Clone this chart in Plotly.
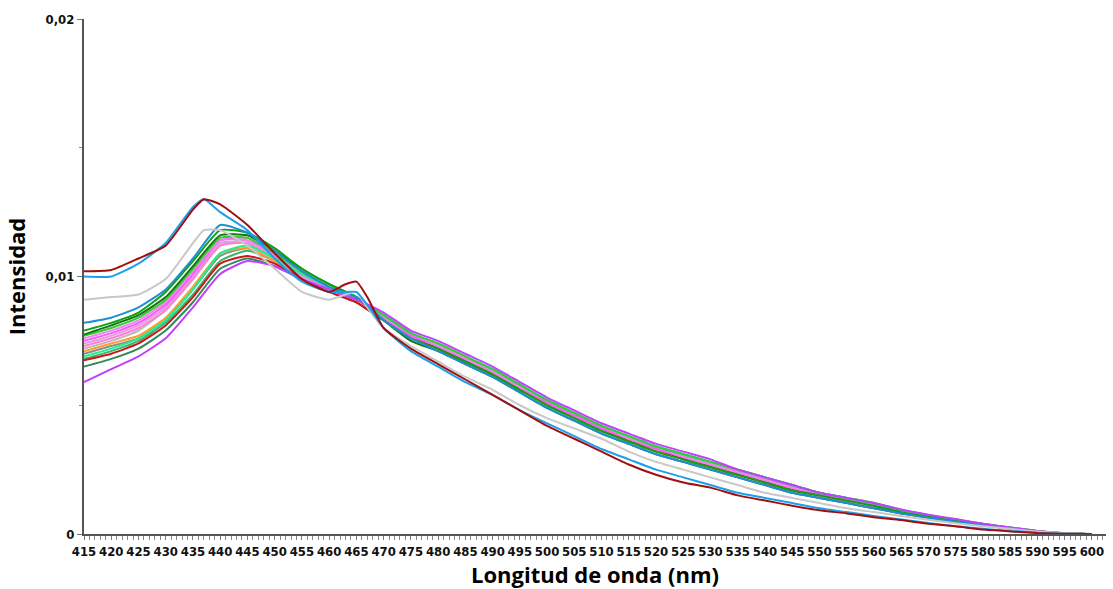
import plotly.graph_objects as go

# Wavelengths (nm)
x_a = [415, 420, 425, 430, 435, 437, 440, 445, 450, 455, 460, 463, 465, 467, 470,
       475, 480, 485, 490, 495, 500, 505, 510, 515, 520, 525, 530, 535, 540, 545,
       550, 555, 560, 565, 570, 575, 580, 585, 590, 595, 600]
x_b = [415, 420, 425, 430, 435, 440, 445, 450, 455, 460, 465,
       470, 475, 480, 485, 490, 495, 500, 505, 510, 515, 520, 525, 530, 535, 540,
       545, 550, 555, 560, 565, 570, 575, 580, 585, 590, 595, 600]

# Group A spectra (sampled on x_a)
darkred_a = [.0102, .01025, .0107, .0112, .0126, .0130, .0128, .0120, .0109, .0099, .0094, .0097, .0098, .0092, .0080,
             .0072, .0066, .0060, .0054, .0048, .0042, .0037, .0032, .0027, .0023, .0020, .0018, .0015, .0013, .0011,
             .00092, .0008, .00065, .00054, .0004, .0003, .00017, .0001, .00004, .00001, 0]
blue_a = [.0100, .0100, .0105, .0113, .0127, .0130, .0125, .0118, .0107, .0098, .0094, .0094, .0094, .0089, .0080,
          .0071, .0065, .0059, .0054, .0048, .0043, .0038, .0033, .0029, .0025, .0022, .0019, .0016, .0014, .0012,
          .0010, .00085, .0007, .00056, .00043, .0003, .0002, .00012, .00005, .00001, 0]
lightgray_a = [.0091, .0092, .0093, .0099, .0113, .0118, .0118, .0112, .0103, .0094, .0091, .0093, .0094, .0088, .0080,
               .0073, .0067, .0061, .0056, .0050, .0045, .0041, .0037, .0032, .0028, .0025, .0022, .0019, .0016, .0014,
               .0012, .0010, .00085, .0007, .00055, .00042, .0003, .0002, .0001, .00004, 0]

# Group B spectra (sampled on x_b)
steelblue_b = [.0082, .0084, .0088, .0095, .0107, .0120, .0117, .0110, .0102, .0096, .0092,
               .0083, .0076, .0071, .0066, .0061, .0055, .0049, .0044, .0039, .0035, .0031, .0028, .0025, .0022, .0019,
               .0016, .0014, .0012, .0010, .0008, .00063, .00048, .00034, .00021, .0001, .00003, 0]
green_b = [.0079, .0082, .0086, .0094, .0106, .0118, .0117, .0111, .0103, .0097, .0092,
           .0083, .0076, .0072, .0067, .0062, .0056, .0050, .0045, .0040, .0036, .0032, .0029, .0026, .0023, .0020,
           .0017, .0015, .0013, .0011, .00085, .00067, .0005, .00035, .00022, .0001, .00003, 0]
darkgreen_b = [.00775, .0081, .0085, .0092, .0104, .0116, .0116, .0110, .0103, .0097, .0092,
               .0083, .0075, .0071, .0066, .0061, .0055, .0049, .0044, .0039, .0035, .0031, .0028, .0025, .0022, .0019,
               .0016, .0014, .0012, .0010, .0008, .00063, .00048, .00034, .00021, .0001, .00003, 0]
limegreen_b = [.0077, .0080, .0084, .0091, .0103, .0115, .0115, .0109, .0102, .0096, .0091,
               .0085, .0078, .0074, .0069, .0064, .0058, .0052, .0047, .0042, .0038, .0034, .0031, .0028, .0025, .0022,
               .0019, .0016, .0014, .0012, .00093, .00073, .00056, .0004, .00025, .00012, .00003, 0]
violet_b = [.0076, .0079, .0083, .0090, .0102, .0114, .0114, .0108, .0101, .0095, .0091,
            .0084, .0078, .0073, .0068, .0063, .0057, .0052, .0047, .0042, .0037, .0034, .0030, .0027, .0024, .0021,
            .0018, .0016, .0013, .0011, .0009, .0007, .00054, .00038, .00024, .00011, .00003, 0]
magenta_b = [.0075, .0078, .0082, .0089, .0101, .0114, .0115, .0108, .0101, .0095, .0091,
             .0084, .0077, .0073, .0068, .0063, .0057, .0051, .0046, .0041, .0037, .0033, .0030, .0027, .0024, .0021,
             .0018, .0015, .0013, .0011, .00088, .0007, .00053, .00037, .00023, .00011, .00003, 0]
plum_b = [.0074, .0077, .0081, .0088, .0100, .0113, .0113, .0107, .0100, .0095, .0091,
          .0084, .0077, .0073, .0068, .0063, .0057, .0051, .0046, .0041, .0037, .0033, .0030, .0027, .0024, .0021,
          .0018, .0015, .0013, .0011, .00088, .0007, .00053, .00037, .00023, .00011, .00003, 0]
orange_b = [.0071, .0074, .0077, .0084, .0096, .0109, .0111, .0106, .0100, .0095, .0091,
            .0084, .0077, .0072, .0067, .0062, .0056, .0051, .0046, .0041, .0037, .0033, .0030, .0027, .0024, .0021,
            .0018, .0015, .0013, .0011, .00087, .00069, .00052, .00036, .00023, .00011, .00003, 0]
gray_b = [.0070, .0073, .0076, .0083, .0095, .0108, .0111, .0106, .0100, .0095, .0090,
          .0083, .0077, .0072, .0067, .0062, .0056, .0050, .0045, .0040, .0036, .0032, .0029, .0026, .0023, .0020,
          .0017, .0015, .0013, .0011, .00085, .00067, .0005, .00035, .00022, .0001, .00003, 0]
springgreen_b = [.0069, .0072, .0076, .0083, .0095, .0109, .0112, .0107, .0101, .0096, .0092,
                 .0085, .0078, .0074, .0069, .0064, .0058, .0052, .0047, .0042, .0038, .0034, .0031, .0028, .0025, .0022,
                 .0019, .0016, .0014, .0012, .00093, .00073, .00056, .0004, .00025, .00012, .00003, 0]
mediumseagreen_b = [.0068, .0071, .0075, .0082, .0093, .0106, .0110, .0106, .0100, .0095, .0091,
                    .0085, .0078, .0073, .0068, .0064, .0058, .0052, .0047, .0042, .0038, .0034, .0031, .0028, .0025, .0022,
                    .0019, .0016, .0014, .0012, .00092, .00072, .00055, .00039, .00024, .00012, .00003, 0]
red_b = [.00675, .0070, .0074, .0081, .0092, .0105, .0108, .0105, .0099, .0094, .0090,
         .0083, .0077, .0072, .0067, .0062, .0056, .0051, .0046, .0041, .0036, .0033, .0029, .0026, .0023, .0020,
         .0017, .0015, .0013, .0011, .00086, .00068, .00051, .00036, .00022, .0001, .00003, 0]
seagreen_b = [.0065, .0068, .0072, .0079, .0090, .0103, .0107, .0104, .0099, .0094, .0090,
              .0083, .0077, .0072, .0067, .0062, .0057, .0051, .0046, .0041, .0037, .0033, .0030, .0027, .0024, .0021,
              .0018, .0015, .0013, .0011, .00087, .00069, .00052, .00036, .00023, .00011, .00003, 0]
purple_b = [.0059, .0064, .0069, .0076, .0088, .0101, .0106, .0104, .0099, .0095, .0091,
            .0086, .0079, .0075, .0070, .0065, .0059, .0053, .0048, .0043, .0039, .0035, .0032, .0029, .0025, .0022,
            .0019, .0016, .0014, .0012, .00095, .00075, .00058, .0004, .00025, .00012, .00003, 0]
silver_b = [.0072, .0075, .0079, .0087, .0099, .0112, .0114, .0108, .0100, .0094, .0090,
            .0084, .0077, .0073, .0068, .0063, .0057, .0051, .0046, .0041, .0037, .0033, .0030, .0027, .0024, .0021,
            .0018, .0015, .0013, .0011, .00088, .0007, .00053, .00037, .00023, .00011, .00003, 0]
hotpink_b = [.0073, .0076, .0080, .0087, .0099, .0112, .0113, .0107, .0101, .0095, .0091,
             .0084, .0077, .0073, .0068, .0063, .0057, .0051, .0046, .0041, .0037, .0033, .0030, .0027, .0024, .0021,
             .0018, .0015, .0013, .0011, .00088, .0007, .00053, .00037, .00023, .00011, .00003, 0]

# Axis ticks
x_tickvals = list(range(415, 601, 5))
y_tickvals = [0, 0.01, 0.02]
y_ticktext = ["0", "0,01", "0,02"]
y_minor = [0.005, 0.015]

series = [
    (x_b, mediumseagreen_b, "#3CB371"),
    (x_b, seagreen_b, "#2E8B57"),
    (x_b, gray_b, "#8C8C8C"),
    (x_b, silver_b, "#B8B8B8"),
    (x_b, orange_b, "#FF9A2E"),
    (x_b, red_b, "#D01515"),
    (x_b, plum_b, "#DDA0DD"),
    (x_b, hotpink_b, "#FF80D5"),
    (x_b, magenta_b, "#FF55FF"),
    (x_b, violet_b, "#EE82EE"),
    (x_b, springgreen_b, "#1EF08A"),
    (x_b, limegreen_b, "#33CC33"),
    (x_b, darkgreen_b, "#117711"),
    (x_b, green_b, "#10A010"),
    (x_b, steelblue_b, "#1E8ED2"),
    (x_b, purple_b, "#C040FF"),
    (x_a, lightgray_a, "#C8C8C8"),
    (x_a, blue_a, "#1E9FEA"),
    (x_a, darkred_a, "#A01010"),
]

fig = go.Figure()
for xs, ys, col in series:
    fig.add_trace(go.Scatter(x=xs, y=ys, mode="lines",
                             line=dict(color=col, width=2, shape="spline", smoothing=0.5),
                             hoverinfo="skip", showlegend=False))

tickfont = dict(family="DejaVu Sans Condensed, Liberation Sans, sans-serif", size=13, color="#111111", weight="bold")
titlefont = dict(family="Open Sans", size=22, color="#000000", weight="bold")

fig.update_layout(
    width=1113, height=589,
    margin=dict(l=84, r=7, t=19, b=55),
    plot_bgcolor="white", paper_bgcolor="white",
    showlegend=False,
    xaxis=dict(
        range=[415, 602.6], tickmode="array", tickvals=x_tickvals,
        ticks="outside", ticklen=4, tickwidth=1, tickcolor="#777777",
        minor=dict(dtick=1, tick0=415, ticks="outside", ticklen=4, tickwidth=1, tickcolor="#888888"),
        showline=True, linecolor="#555555", linewidth=2,
        showgrid=False, zeroline=False, tickfont=tickfont,
        title=dict(text="Longitud de onda (nm)", font=titlefont, standoff=2),
        automargin=False,
    ),
    yaxis=dict(
        range=[0, 0.02], tickmode="array", tickvals=y_tickvals, ticktext=y_ticktext,
        ticks="outside", ticklen=5, tickwidth=1, tickcolor="#777777",
        minor=dict(tickvals=y_minor, ticks="outside", ticklen=3, tickwidth=1, tickcolor="#888888"),
        showline=True, linecolor="#555555", linewidth=2,
        showgrid=False, zeroline=False, tickfont=tickfont,
        title=dict(text="Intensidad", font=titlefont, standoff=14),
        automargin=False,
    ),
)

fig.write_html("out.html")
